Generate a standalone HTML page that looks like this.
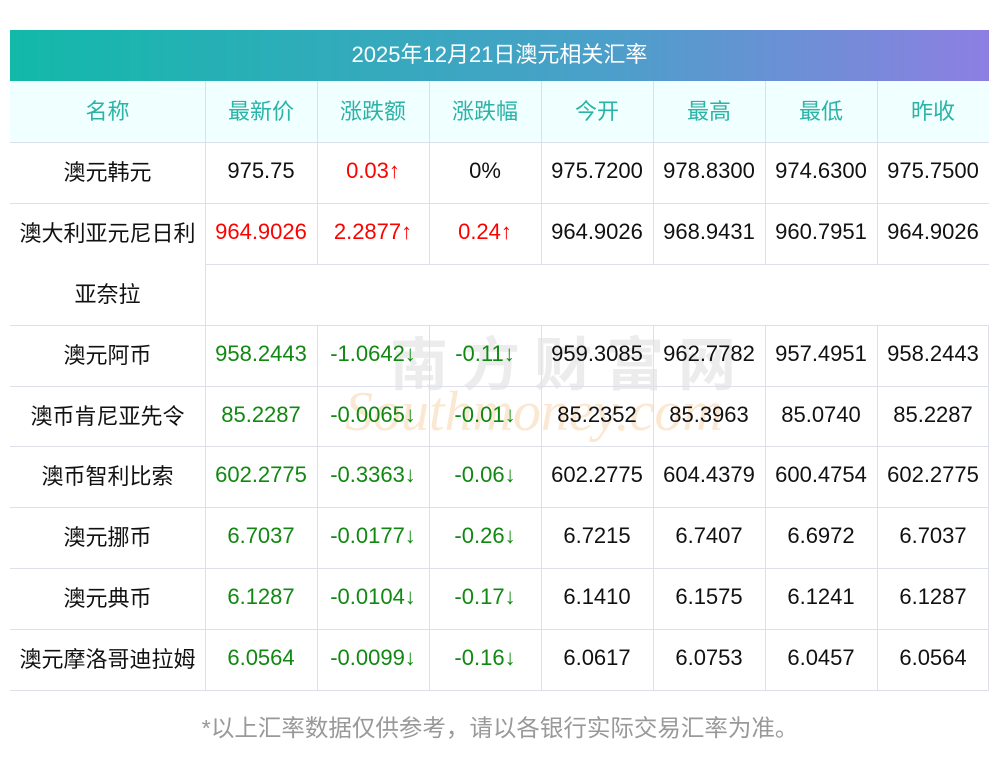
<!DOCTYPE html>
<html><head><meta charset="utf-8"><style>
body{margin:0;width:1000px;height:757px;background:#fff;position:relative;font-family:"Liberation Sans","Noto Sans CJK SC",sans-serif;overflow:hidden}
.t{position:absolute;left:10px;top:30px;width:979px;height:51px;background:linear-gradient(90deg,#12b9a9,#4aa0c9 60%,#8d7fe2);color:#fff;font-size:22px;text-align:center;line-height:49px}
.c{position:absolute;display:flex;align-items:center;justify-content:center;font-size:22px;color:#111;box-sizing:border-box;padding-bottom:3px}
.h{color:#2ab3a6;background:#f0ffff;padding-bottom:4px}
.r{color:#f00}.g{color:#118811}
.hl{position:absolute;height:1px;background:#dde0ea}
.vl{position:absolute;width:1px;background:#dde0ea}
.f{position:absolute;top:709px;left:0;width:1000px;text-align:center;color:#999;font-size:23.5px}
.w1{position:absolute;left:390px;top:318px;font-size:58px;color:#ececec;letter-spacing:14px;font-weight:bold;font-family:"Noto Sans CJK SC",sans-serif}
.w2{position:absolute;left:345px;top:380px;font-size:56px;color:#fbe8d2;font-style:italic;font-family:"Liberation Serif",serif}
</style></head><body>
<div class="w1">南方财富网</div>
<div class="w2">Southmoney.com</div>
<div class="t">2025年12月21日澳元相关汇率</div>
<div id="g"></div>
<div class="f">*以上汇率数据仅供参考，请以各银行实际交易汇率为准。</div>
<script>
const X=[10,205,317,429,541,653,765,877,989];
const rows=[
["名称","最新价","涨跌额","涨跌幅","今开","最高","最低","昨收"],
["澳元韩元","975.75","0.03↑","0%","975.7200","978.8300","974.6300","975.7500"],
["澳大利亚元尼日利","964.9026","2.2877↑","0.24↑","964.9026","968.9431","960.7951","964.9026"],
["亚奈拉","","","","","","",""],
["澳元阿币","958.2443","-1.0642↓","-0.11↓","959.3085","962.7782","957.4951","958.2443"],
["澳币肯尼亚先令","85.2287","-0.0065↓","-0.01↓","85.2352","85.3963","85.0740","85.2287"],
["澳币智利比索","602.2775","-0.3363↓","-0.06↓","602.2775","604.4379","600.4754","602.2775"],
["澳元挪币","6.7037","-0.0177↓","-0.26↓","6.7215","6.7407","6.6972","6.7037"],
["澳元典币","6.1287","-0.0104↓","-0.17↓","6.1410","6.1575","6.1241","6.1287"],
["澳元摩洛哥迪拉姆","6.0564","-0.0099↓","-0.16↓","6.0617","6.0753","6.0457","6.0564"]];
const Y=[81,142,203,264,325,386,446,507,568,629,690];
let h="";
rows.forEach((r,i)=>{r.forEach((v,j)=>{let cls="c";if(i==0)cls+=" h";
 else if(j>=1&&j<=3){if(i==1&&j==2)cls+=" r";if(i==2)cls+=" r";if(i>=4)cls+=" g";}
 h+=`<div class="${cls}" style="left:${X[j]}px;top:${Y[i]}px;width:${X[j+1]-X[j]}px;height:${Y[i+1]-Y[i]}px">${v}</div>`;});});
Y.slice(1).forEach((y,i)=>{let l=(i==2)?205:10;h+=`<div class="hl" style="left:${l}px;top:${y}px;width:${989-l}px"></div>`;});
X.slice(1,8).forEach((x,j)=>{
 h+=`<div class="vl" style="left:${x}px;top:81px;height:183px"></div>`;
 if(j==0) h+=`<div class="vl" style="left:${x}px;top:264px;height:426px"></div>`;
 else h+=`<div class="vl" style="left:${x}px;top:325px;height:365px"></div>`;});
h+=`<div class="vl" style="left:988px;top:325px;height:365px"></div>`;
document.getElementById("g").innerHTML=h;
</script>
</body></html>
